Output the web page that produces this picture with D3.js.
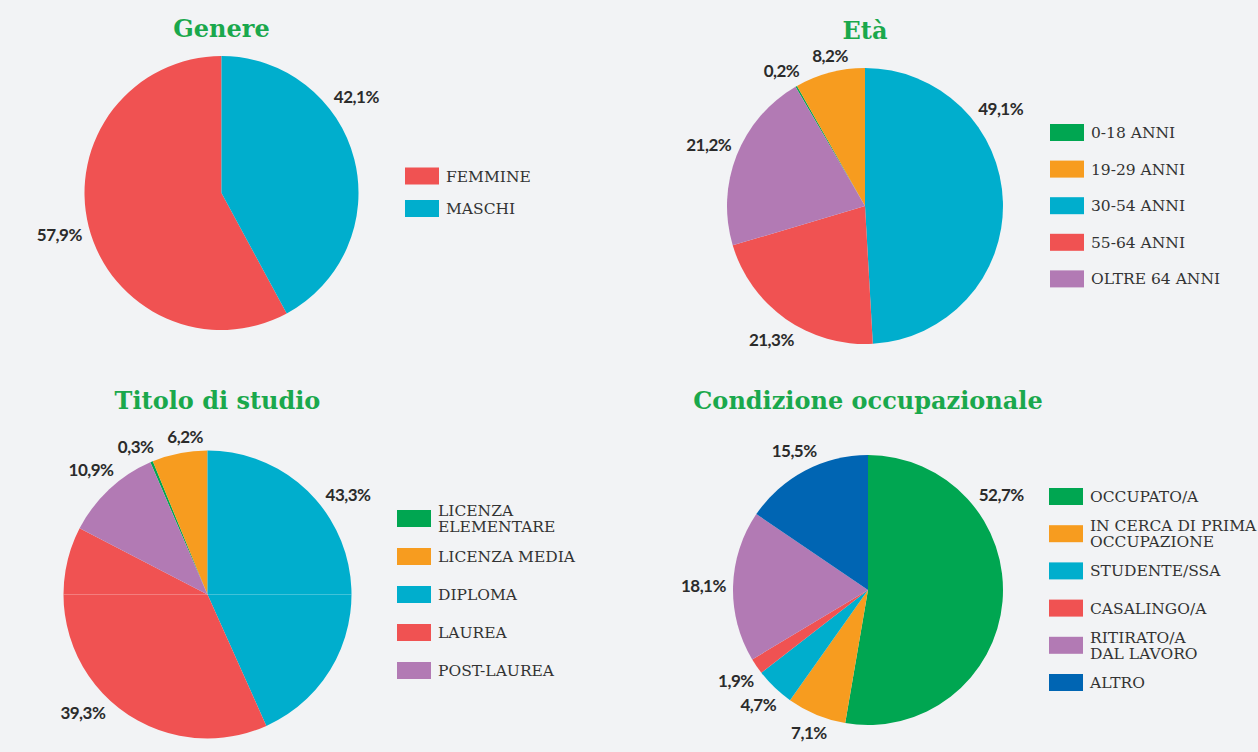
<!DOCTYPE html>
<html lang="it">
<head>
<meta charset="UTF-8">
<title>Profilo dei rispondenti</title>
<script src="https://cdn.jsdelivr.net/npm/d3@7"></script>
<style>
    body { margin: 0; background: #f2f3f5; }
    svg { display: block; }
    .title { font-family: "DejaVu Serif", serif; font-weight: bold; fill: #1aa84c; }
    .legend text { font-family: "DejaVu Serif", serif; fill: #333; }
    .pct { font-family: Lato, sans-serif; font-weight: bold; fill: #2b2b2b; }
</style>
</head>
<body>
<div id="chart"></div>
<script>
// values in percent, legend order
const genereLabels = ["FEMMINE", "MASCHI"];
const genereValues = [57.9, 42.1];
const genereColors = ["#f05252", "#00aecd"];

const etaLabels = ["0-18 ANNI", "19-29 ANNI", "30-54 ANNI", "55-64 ANNI", "OLTRE 64 ANNI"];
const etaValues = [0.2, 8.2, 49.1, 21.3, 21.2];
const etaColors = ["#00a651", "#f79c1f", "#00aecd", "#f05252", "#b27ab4"];

const titoloLabels = ["LICENZA\nELEMENTARE", "LICENZA MEDIA", "DIPLOMA", "LAUREA", "POST-LAUREA"];
const titoloValues = [0.3, 6.2, 43.3, 39.3, 10.9];
const titoloColors = ["#00a651", "#f79c1f", "#00aecd", "#f05252", "#b27ab4"];

const condLabels = ["OCCUPATO/A", "IN CERCA DI PRIMA\nOCCUPAZIONE", "STUDENTE/SSA", "CASALINGO/A", "RITIRATO/A\nDAL LAVORO", "ALTRO"];
const condValues = [52.7, 7.1, 4.7, 1.9, 18.1, 15.5];
const condColors = ["#00a651", "#f79c1f", "#00aecd", "#f05252", "#b27ab4", "#0065b3"];

const W = 1258, H = 752;
const svg = d3.select("#chart").append("svg").attr("width", W).attr("height", H);

const itFormat = d3.formatLocale({decimal: ",", thousands: ".", grouping: [3], currency: ["", "€"]});
const pctFmt = v => itFormat.format(".1f")(v) + "%";

// topIndex: the slice that starts at 12 o'clock
const drawPie = (opt) => {
    const g = svg.append("g");
    const total = d3.sum(opt.values);
    const a0 = -2 * Math.PI * d3.sum(opt.values.slice(0, opt.topIndex)) / total;
    const pie = d3.pie().sort(null).startAngle(a0).endAngle(a0 + 2 * Math.PI);
    const arcs = pie(opt.values);
    const arc = d3.arc().innerRadius(0).outerRadius(opt.r);

    g.append("text").attr("class", "title")
        .attr("x", opt.cx + (opt.titleDx || 0)).attr("y", opt.titleY)
        .attr("text-anchor", "middle").attr("font-size", 24)
        .text(opt.title);

    const pg = g.append("g").attr("transform", `translate(${opt.cx},${opt.cy})`);
    pg.selectAll("path").data(arcs).join("path")
        .attr("d", arc)
        .attr("fill", (d, i) => opt.colors[i]);

    if (opt.seam) {
        pg.append("line").attr("x1", -opt.r).attr("x2", opt.r)
            .attr("stroke", "#fff").attr("stroke-opacity", 0.25).attr("stroke-width", 1);
    }

    // percentage labels outside the slices
    const labs = arcs.map((d, i) => {
        let ang = (d.startAngle + d.endAngle) / 2;
        if (i === opt.topIndex) ang = Math.min(ang, d.startAngle + 0.95);
        const t = pg.append("text").attr("class", "pct")
            .attr("font-size", 17).attr("letter-spacing", -0.5)
            .attr("text-anchor", "middle").attr("dominant-baseline", "central")
            .text(pctFmt(opt.values[i]));
        return {t, ang, w: t.node().getComputedTextLength(), h: 13};
    });
    const place = l => {
        const dx = Math.sin(l.ang), dy = -Math.cos(l.ang);
        const dist = opt.r + 7 + Math.abs(dx) * l.w / 2 + Math.abs(dy) * 6;
        l.x = dx * dist; l.y = dy * dist;
    };
    labs.forEach(place);
    // spread labels of thin neighbouring slices apart
    for (let it = 0; it < 300; it++) {
        let moved = false;
        for (let a = 0; a < labs.length; a++) {
            for (let b = a + 1; b < labs.length; b++) {
                const p = labs[a], q = labs[b];
                const ox = (p.w + q.w) / 2 + 12 - Math.abs(p.x - q.x);
                const oy = (p.h + q.h) / 2 + 4 - Math.abs(p.y - q.y);
                if (ox > 0 && oy > 0) {
                    const lo = p.ang < q.ang ? p : q, hi = p.ang < q.ang ? q : p;
                    lo.ang -= 0.006; hi.ang += 0.006;
                    place(lo); place(hi);
                    moved = true;
                }
            }
        }
        if (!moved) break;
    }
    labs.forEach(l => l.t.attr("x", l.x).attr("y", l.y));

    // legend
    const lg = g.append("g").attr("class", "legend")
        .attr("transform", `translate(${opt.lx},${opt.ly})`);
    const items = lg.selectAll("g").data(opt.labels).join("g")
        .attr("transform", (d, i) => `translate(0,${i * opt.step})`);
    items.append("rect").attr("width", 34).attr("height", 17)
        .attr("fill", (d, i) => opt.colors[i]);
    items.each(function(d) {
        const lines = d.split("\n");
        const lh = 16;
        const txt = d3.select(this).append("text")
            .attr("x", 41).attr("font-size", 15.5);
        lines.forEach((ln, k) => {
            txt.append("tspan").attr("x", 41)
                .attr("y", 8.5 + (k - (lines.length - 1) / 2) * lh)
                .attr("dy", "0.36em")
                .text(ln);
        });
    });
};

drawPie({title: "Genere", labels: genereLabels, values: genereValues, colors: genereColors,
    topIndex: 1, cx: 221.5, cy: 193, r: 137, titleY: 37, lx: 405, ly: 167.5, step: 32.5});
drawPie({title: "Età", labels: etaLabels, values: etaValues, colors: etaColors,
    topIndex: 2, cx: 865, cy: 206, r: 138, titleY: 39, lx: 1050, ly: 124, step: 36.6});
drawPie({title: "Titolo di studio", labels: titoloLabels, values: titoloValues, colors: titoloColors,
    topIndex: 2, cx: 207.5, cy: 594.5, r: 144, titleY: 409, titleDx: 10, lx: 397, ly: 510, step: 38, seam: true});
drawPie({title: "Condizione occupazionale", labels: condLabels, values: condValues, colors: condColors,
    topIndex: 0, cx: 868, cy: 590, r: 135, titleY: 409, lx: 1049, ly: 488, step: 37.2});
</script>
</body>
</html>
